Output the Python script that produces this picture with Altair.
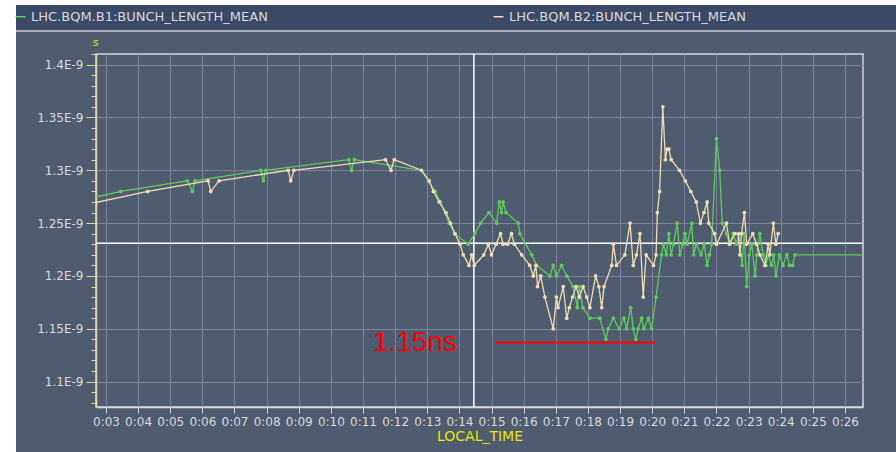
import altair as alt
import pandas as pd

B1_NAME = "LHC.BQM.B1:BUNCH_LENGTH_MEAN"
B2_NAME = "LHC.BQM.B2:BUNCH_LENGTH_MEAN"

# Local time in minutes after 0:00, mean bunch length in ns (axis shows E-9 s)
b1_time = [2.0, 3.46, 5.53, 5.69, 5.77, 7.82, 7.90, 7.97, 10.56, 10.64, 10.73, 12.82,
           13.03, 13.24, 13.41, 13.68, 13.86, 14.27, 14.48, 14.66, 14.92, 15.16, 15.24,
           15.31, 15.36, 15.45, 15.83, 15.88, 16.25, 16.40, 16.82, 16.92, 17.02, 17.18,
           17.34, 17.54, 17.67, 17.73, 17.84, 18.06, 18.37, 18.56, 18.63, 18.79, 18.97,
           19.12, 19.20, 19.33, 19.41, 19.49, 19.56, 19.67, 19.74, 19.88, 19.98, 20.12,
           20.29, 20.35, 20.44, 20.52, 20.59, 20.66, 20.78, 20.86, 20.95, 21.02, 21.09,
           21.23, 21.29, 21.37, 21.52, 21.62, 21.71, 21.78, 21.85, 22.00, 22.10, 22.18,
           22.31, 22.41, 22.52, 22.62, 22.69, 22.76, 22.80, 22.86, 22.94, 23.02, 23.10,
           23.20, 23.25, 23.35, 23.45, 23.54, 23.61, 23.71, 23.78, 23.85, 23.96, 24.07,
           24.19, 24.27, 24.37, 24.44, 27.0]
b1_value = [1.270, 1.280, 1.290, 1.280, 1.290, 1.300, 1.290, 1.300, 1.310, 1.300, 1.310,
            1.300, 1.290, 1.280, 1.270, 1.250, 1.240, 1.230, 1.240, 1.250, 1.260, 1.250,
            1.270, 1.260, 1.270, 1.260, 1.250, 1.240, 1.220, 1.210, 1.200, 1.210, 1.200,
            1.210, 1.200, 1.190, 1.170, 1.190, 1.170, 1.160, 1.160, 1.140, 1.150, 1.160,
            1.150, 1.160, 1.150, 1.170, 1.150, 1.140, 1.150, 1.160, 1.150, 1.160, 1.150,
            1.180, 1.220, 1.230, 1.220, 1.240, 1.220, 1.230, 1.250, 1.220, 1.230, 1.240,
            1.230, 1.250, 1.220, 1.230, 1.220, 1.230, 1.210, 1.220, 1.230, 1.330, 1.300,
            1.250, 1.240, 1.230, 1.240, 1.230, 1.240, 1.220, 1.210, 1.240, 1.190, 1.220,
            1.230, 1.200, 1.220, 1.240, 1.220, 1.210, 1.220, 1.210, 1.220, 1.200, 1.220,
            1.210, 1.220, 1.210, 1.210, 1.220, 1.220]

b2_time = [2.0, 4.30, 6.18, 6.26, 6.52, 8.67, 8.75, 8.85, 11.70, 11.87, 11.97, 12.82,
           13.06, 13.19, 13.37, 13.58, 13.72, 13.86, 14.02, 14.12, 14.30, 14.38, 14.46,
           14.76, 14.90, 15.00, 15.14, 15.28, 15.36, 15.50, 15.62, 15.71, 15.94, 16.19,
           16.30, 16.38, 16.43, 16.53, 16.66, 16.92, 17.02, 17.07, 17.23, 17.34, 17.42,
           17.52, 17.63, 17.73, 17.85, 17.96, 18.06, 18.24, 18.34, 18.43, 18.50, 18.74,
           18.79, 18.89, 19.15, 19.31, 19.41, 19.51, 19.62, 19.72, 19.81, 20.04, 20.12,
           20.16, 20.23, 20.33, 20.41, 20.46, 20.52, 20.59, 20.85, 21.03, 21.20, 21.37,
           21.50, 21.61, 21.71, 21.76, 21.94, 22.00, 22.31, 22.41, 22.57, 22.68, 22.73,
           22.78, 22.87, 22.94, 23.13, 23.25, 23.35, 23.51, 23.61, 23.66, 23.77, 23.85,
           23.92]
b2_value = [1.265, 1.280, 1.290, 1.280, 1.290, 1.300, 1.290, 1.300, 1.310, 1.300, 1.310,
            1.300, 1.290, 1.280, 1.270, 1.260, 1.250, 1.240, 1.230, 1.220, 1.210, 1.220,
            1.210, 1.220, 1.230, 1.220, 1.230, 1.240, 1.230, 1.230, 1.240, 1.230, 1.220,
            1.210, 1.200, 1.210, 1.190, 1.200, 1.180, 1.150, 1.180, 1.170, 1.190, 1.160,
            1.170, 1.180, 1.190, 1.180, 1.190, 1.180, 1.170, 1.200, 1.190, 1.170, 1.190,
            1.210, 1.230, 1.210, 1.220, 1.250, 1.210, 1.220, 1.240, 1.180, 1.220, 1.210,
            1.220, 1.260, 1.280, 1.360, 1.310, 1.320, 1.320, 1.310, 1.300, 1.290, 1.280,
            1.270, 1.250, 1.260, 1.270, 1.250, 1.240, 1.230, 1.250, 1.230, 1.240, 1.240,
            1.220, 1.240, 1.260, 1.230, 1.240, 1.230, 1.220, 1.210, 1.230, 1.220, 1.250,
            1.230, 1.240]

# Axis ticks: one per minute, and 0.01 ns steps on the value axis (labels every 0.05)
x_ticks = list(range(3, 27))
y_ticks = [round(1.08 + 0.01 * i, 2) for i in range(34)]

# Cursor crosshair position
cursor_time = [14.45]
cursor_value = [1.231]

# Hand-drawn note under the B1 minimum
note_start = [15.14]
note_end = [20.09]
note_level = [1.137]
note_text = ["1.15ns"]
note_text_time = [12.62]

GREEN = "#5fca5f"
BEIGE = "#efdcb2"
SLATE = "#4f5c6f"
NAVY = "#3b4866"
GRID = "#807f9b"
AXIS_BEIGE = "#e6d6a8"
LABEL = "#dadade"
YELLOW = "#e8e800"

rows = [{"series": B1_NAME, "minute": t, "length": v} for t, v in zip(b1_time, b1_value)]
rows += [{"series": B2_NAME, "minute": t, "length": v} for t, v in zip(b2_time, b2_value)]
df = pd.DataFrame(rows)

cursor_df = pd.DataFrame({"minute": cursor_time, "length": cursor_value})
note_df = pd.DataFrame({"minute": note_start, "end": note_end, "length": note_level,
                        "label": note_text, "text_minute": note_text_time})

x_scale = alt.Scale(domain=[2.69, 26.56], nice=False, zero=False)
y_scale = alt.Scale(domain=[1.076, 1.410], nice=False, zero=False)

MAJOR = "abs(datum.value * 20 - round(datum.value * 20)) < 0.001"

x_axis = alt.Axis(
    values=x_ticks,
    labelExpr="'0:' + (datum.value < 10 ? '0' : '') + datum.value",
    title="LOCAL_TIME", titleColor=YELLOW, titleFontSize=14, titleFontWeight="normal",
    titlePadding=2,
    labelColor=LABEL, labelFontSize=12, labelPadding=3, labelFlush=False, labelOverlap=False,
    tickSize=6, tickColor="#d4d4dc", domainColor="#d8d8e0", domainWidth=1.5,
    gridColor=GRID, gridWidth=1,
)
y_axis = alt.Axis(
    values=y_ticks,
    labelExpr=MAJOR + " ? format(datum.value, '.2~f') + 'E-9' : ''",
    title="s", titleAngle=0, titleX=-1, titleY=-12, titleAlign="center",
    titleBaseline="middle", titleColor=YELLOW, titleFontSize=11, titleFontWeight="normal",
    labelColor=LABEL, labelFontSize=12, labelPadding=3, labelOverlap=False, labelFlush=False,
    tickSize={"condition": {"test": MAJOR, "value": 10}, "value": 5},
    tickColor=AXIS_BEIGE, domainColor=AXIS_BEIGE, domainWidth=1.5,
    gridColor=GRID, gridWidth=1,
    gridOpacity={"condition": {"test": MAJOR, "value": 1}, "value": 0},
)

X = alt.X("minute:Q", scale=x_scale, axis=x_axis)
Y = alt.Y("length:Q", scale=y_scale, axis=y_axis)

one_row = alt.Data(values=[{}])

# Frame around the panel: white page margin, navy legend band and its light rule
margin_left = alt.Chart(one_row).mark_rect(color="white").encode(
    x=alt.value(-96), x2=alt.value(-80), y=alt.value(-54), y2=alt.value(398))
margin_top = alt.Chart(one_row).mark_rect(color="white").encode(
    x=alt.value(-96), x2=alt.value(800), y=alt.value(-54), y2=alt.value(-49))
band = alt.Chart(one_row).mark_rect(color=NAVY).encode(
    x=alt.value(-80), x2=alt.value(800), y=alt.value(-49), y2=alt.value(-24))
band_rule = alt.Chart(one_row).mark_rule(color="#c9cdd8", strokeWidth=1.5).encode(
    x=alt.value(-80), x2=alt.value(800), y=alt.value(-23))

cross_v = alt.Chart(cursor_df).mark_rule(color="white", strokeWidth=1.5).encode(x=X)
cross_h = alt.Chart(cursor_df).mark_rule(color="white", strokeWidth=1.5).encode(y=Y)

series_scale = alt.Scale(domain=[B1_NAME, B2_NAME], range=[GREEN, BEIGE])
color = alt.Color(
    "series:N",
    scale=series_scale,
    legend=alt.Legend(
        title=None, orient="none", legendX=-82, legendY=-44, direction="horizontal",
        columns=2, columnPadding=222, symbolType="stroke", symbolSize=100,
        symbolStrokeWidth=1.5, labelColor=LABEL, labelFontSize=13, labelLimit=400,
        labelOffset=4, padding=0, zindex=1,
    ),
)

lines = alt.Chart(df).mark_line(strokeWidth=1.3, clip=True).encode(
    x=X, y=Y, color=color, detail="series:N",
)
points = alt.Chart(df).mark_point(filled=True, size=14, opacity=1, clip=True).encode(
    x=X, y=Y, color=color,
)

note_rule = alt.Chart(note_df).mark_rule(color="#ff0000", strokeWidth=2).encode(
    x=X, x2="end:Q", y=Y,
)
note_label = alt.Chart(note_df).mark_text(
    color="#ff0000", fontSize=28, font="Liberation Sans", align="center", baseline="middle"
).encode(
    x=alt.X("text_minute:Q", scale=x_scale, axis=x_axis),
    y=Y,
    text="label:N",
)

chart = alt.layer(
    margin_left, margin_top, band, band_rule,
    cross_v, cross_h, lines, points, note_rule, note_label,
).properties(
    width=767, height=353,
    autosize=alt.AutoSizeParams(type="none"),
    padding={"left": 96, "top": 54, "right": 33, "bottom": 45},
    background=SLATE,
).configure(
    font="DejaVu Sans",
).configure_view(
    stroke="#d4d4dc", strokeWidth=1.5,
)

chart.save("out.html", embed_options={"renderer": "svg", "actions": False})
